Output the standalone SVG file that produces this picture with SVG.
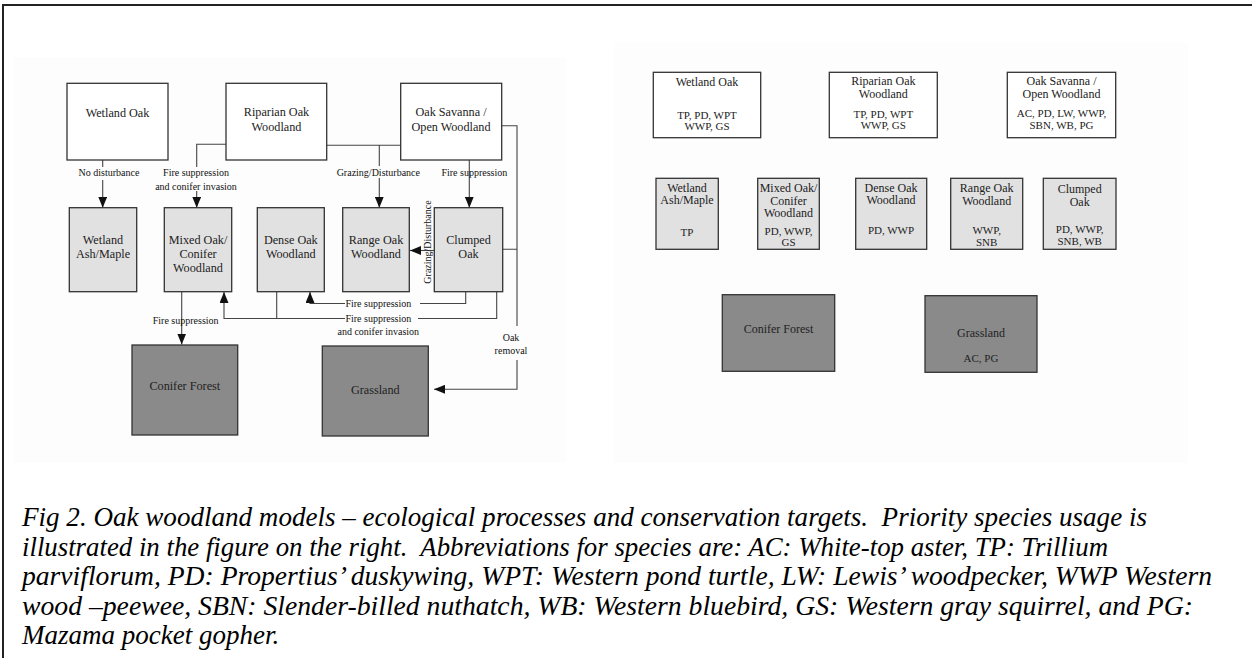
<svg xmlns="http://www.w3.org/2000/svg" width="1252" height="658" viewBox="0 0 1252 658">
<defs>
<marker id="arr" markerUnits="userSpaceOnUse" markerWidth="11" markerHeight="9" refX="11" refY="4.5" orient="auto">
<path d="M0,0 L11,4.5 L0,9 z" fill="#111"/>
</marker>
<style>
.box{stroke:#333;stroke-width:1.3}
.w{fill:#fff}
.lg{fill:#e1e1e1}
.dg{fill:#8a8a8a}
.t{font-family:"Liberation Serif",serif;font-size:12.2px;fill:#222;text-anchor:middle}
.rt{font-family:"Liberation Serif",serif;font-size:12px;fill:#222;text-anchor:middle}
.rs{font-family:"Liberation Serif",serif;font-size:11px;fill:#222;text-anchor:middle}
.lb{font-family:"Liberation Serif",serif;font-size:10px;fill:#111;text-anchor:middle}
.ln{fill:none;stroke:#444;stroke-width:1.1}
.cap{font-family:"Liberation Serif",serif;font-style:italic;font-size:27px;fill:#000}
</style>
</defs>
<rect width="1252" height="658" fill="#fff"/>
<rect x="14" y="57" width="552" height="406" fill="#fdfdfd"/>
<rect x="614" y="42" width="574" height="421" fill="#fdfdfd"/>
<path d="M3,658 V5 H1252" fill="none" stroke="#222" stroke-width="2"/>

<g id="connectors">
<path class="ln" d="M102.7,160 V167"/>
<path class="ln" d="M102.7,180 V207.7" marker-end="url(#arr)"/>
<path class="ln" d="M226,144.3 H196.7 V167"/>
<path class="ln" d="M196.7,191 V207.7" marker-end="url(#arr)"/>
<path class="ln" d="M326.7,145.3 H400.7 M379.3,145.3 V166"/>
<path class="ln" d="M379.3,178 V207.7" marker-end="url(#arr)"/>
<path class="ln" d="M469.3,160 V207.7" marker-end="url(#arr)"/>
<path class="ln" d="M501.7,125.7 H517 V326 M502.7,249.3 H517"/>
<path class="ln" d="M517,360 V389.3 H434" marker-end="url(#arr)"/>
<path class="ln" d="M434.3,250.5 H410" marker-end="url(#arr)"/>
<path class="ln" d="M465.7,291.7 V303.5 H420"/>
<path class="ln" d="M345,303.5 H310 V292" marker-end="url(#arr)"/>
<path class="ln" d="M496.7,291.7 V318.5 H418"/>
<path class="ln" d="M345,318.5 H224 V292" marker-end="url(#arr)"/>
<path class="ln" d="M276.7,291.7 V318.5"/>
<path class="ln" d="M181.7,291.7 V344.5" marker-end="url(#arr)"/>
<text class="lb" x="109" y="176">No disturbance</text>
<text class="lb" x="196" y="176">Fire suppression</text>
<text class="lb" x="196" y="189.5">and conifer invasion</text>
<text class="lb" x="378.3" y="176">Grazing/Disturbance</text>
<text class="lb" x="474.3" y="176">Fire suppression</text>
<text class="lb" x="185.7" y="323.5">Fire suppression</text>
<text class="lb" x="378.3" y="307">Fire suppression</text>
<text class="lb" x="378.3" y="322">Fire suppression</text>
<text class="lb" x="378.3" y="334.5">and conifer invasion</text>
<text class="lb" x="511" y="341">Oak</text>
<text class="lb" x="511" y="353.5">removal</text>
<text class="lb" x="431" y="242" font-size="12px" transform="rotate(-90 431 242)">Grazing/Disturbance</text>
</g>

<g id="L-wetland-oak"><rect class="box w" x="67" y="83.3" width="101" height="76.7"/><text class="t" x="117.5" y="116.5">Wetland Oak</text></g>
<g id="L-riparian-oak"><rect class="box w" x="226" y="83.3" width="100.7" height="76.7"/><text class="t" x="276.5" y="116">Riparian Oak</text><text class="t" x="276.5" y="130.5">Woodland</text></g>
<g id="L-oak-savanna"><rect class="box w" x="400.7" y="83.3" width="101" height="76.7"/><text class="t" x="451" y="116">Oak Savanna /</text><text class="t" x="451" y="130.5">Open Woodland</text></g>
<g id="L-wetland-ash"><rect class="box lg" x="69.3" y="207.7" width="67.4" height="84"/><text class="t" x="103" y="244">Wetland</text><text class="t" x="103" y="258">Ash/Maple</text></g>
<g id="L-mixed-oak"><rect class="box lg" x="164.3" y="207.7" width="67.4" height="84"/><text class="t" x="198" y="244">Mixed Oak/</text><text class="t" x="198" y="258">Conifer</text><text class="t" x="198" y="272">Woodland</text></g>
<g id="L-dense-oak"><rect class="box lg" x="257.3" y="207.7" width="67" height="84"/><text class="t" x="290.8" y="244">Dense Oak</text><text class="t" x="290.8" y="258">Woodland</text></g>
<g id="L-range-oak"><rect class="box lg" x="342.7" y="207.7" width="66.6" height="84"/><text class="t" x="376" y="244">Range Oak</text><text class="t" x="376" y="258">Woodland</text></g>
<g id="L-clumped-oak"><rect class="box lg" x="434.3" y="207.7" width="68.4" height="84"/><text class="t" x="468.5" y="244">Clumped</text><text class="t" x="468.5" y="258">Oak</text></g>
<g id="L-conifer-forest"><rect class="box dg" x="132" y="345" width="105.7" height="90"/><text class="t" x="184.8" y="389.5">Conifer Forest</text></g>
<g id="L-grassland"><rect class="box dg" x="322.3" y="346" width="106" height="90"/><text class="t" x="375.3" y="394">Grassland</text></g>

<g id="R-wetland-oak"><rect class="box w" x="653.3" y="72.3" width="107.4" height="65.4"/><text class="rt" x="707" y="85.5">Wetland Oak</text><text class="rs" x="707" y="118.5">TP, PD, WPT</text><text class="rs" x="707" y="130">WWP, GS</text></g>
<g id="R-riparian-oak"><rect class="box w" x="829.3" y="72.3" width="108" height="65.4"/><text class="rt" x="883.3" y="84.5">Riparian Oak</text><text class="rt" x="883.3" y="97.5">Woodland</text><text class="rs" x="883.3" y="117.5">TP, PD, WPT</text><text class="rs" x="883.3" y="129">WWP, GS</text></g>
<g id="R-oak-savanna"><rect class="box w" x="1007.3" y="72.3" width="108.4" height="65.4"/><text class="rt" x="1061.5" y="85">Oak Savanna /</text><text class="rt" x="1061.5" y="97.5">Open Woodland</text><text class="rs" x="1061.5" y="117">AC, PD, LW, WWP,</text><text class="rs" x="1061.5" y="128.5">SBN, WB, PG</text></g>
<g id="R-wetland-ash"><rect class="box lg" x="656" y="178.3" width="62.3" height="71"/><text class="rt" x="687" y="192">Wetland</text><text class="rt" x="687" y="204">Ash/Maple</text><text class="rs" x="687" y="235.5">TP</text></g>
<g id="R-mixed-oak"><rect class="box lg" x="757.7" y="178.3" width="61.6" height="71"/><text class="rt" x="788.5" y="192">Mixed Oak/</text><text class="rt" x="788.5" y="204.5">Conifer</text><text class="rt" x="788.5" y="216.5">Woodland</text><text class="rs" x="788.5" y="234.5">PD, WWP,</text><text class="rs" x="788.5" y="246">GS</text></g>
<g id="R-dense-oak"><rect class="box lg" x="855.7" y="178.3" width="71" height="71"/><text class="rt" x="891" y="192">Dense Oak</text><text class="rt" x="891" y="204">Woodland</text><text class="rs" x="891" y="234">PD, WWP</text></g>
<g id="R-range-oak"><rect class="box lg" x="950.7" y="178.3" width="72" height="71"/><text class="rt" x="986.7" y="192">Range Oak</text><text class="rt" x="986.7" y="204.5">Woodland</text><text class="rs" x="986.7" y="234">WWP,</text><text class="rs" x="986.7" y="245.5">SNB</text></g>
<g id="R-clumped-oak"><rect class="box lg" x="1043.3" y="178.3" width="72.7" height="71"/><text class="rt" x="1079.7" y="193">Clumped</text><text class="rt" x="1079.7" y="205.5">Oak</text><text class="rs" x="1079.7" y="233">PD, WWP,</text><text class="rs" x="1079.7" y="245">SNB, WB</text></g>
<g id="R-conifer-forest"><rect class="box dg" x="722.3" y="294.7" width="112.4" height="76.6"/><text class="rt" x="778.5" y="333">Conifer Forest</text></g>
<g id="R-grassland"><rect class="box dg" x="925" y="295.7" width="112" height="76.6"/><text class="rt" x="981" y="336.5">Grassland</text><text class="rs" x="981" y="362">AC, PG</text></g>

<g id="caption">
<text class="cap" x="22" y="526" textLength="1125" lengthAdjust="spacingAndGlyphs" xml:space="preserve">Fig 2. Oak woodland models – ecological processes and conservation targets.  Priority species usage is</text>
<text class="cap" x="22" y="555.5" textLength="1086" lengthAdjust="spacingAndGlyphs" xml:space="preserve">illustrated in the figure on the right.  Abbreviations for species are: AC: White-top aster, TP: Trillium</text>
<text class="cap" x="22" y="585" textLength="1190" lengthAdjust="spacingAndGlyphs">parviflorum, PD: Propertius’ duskywing, WPT: Western pond turtle, LW: Lewis’ woodpecker, WWP Western</text>
<text class="cap" x="22" y="614.5" textLength="1171" lengthAdjust="spacingAndGlyphs">wood –peewee, SBN: Slender-billed nuthatch, WB: Western bluebird, GS: Western gray squirrel, and PG:</text>
<text class="cap" x="22" y="644">Mazama pocket gopher.</text>
</g>
</svg>
